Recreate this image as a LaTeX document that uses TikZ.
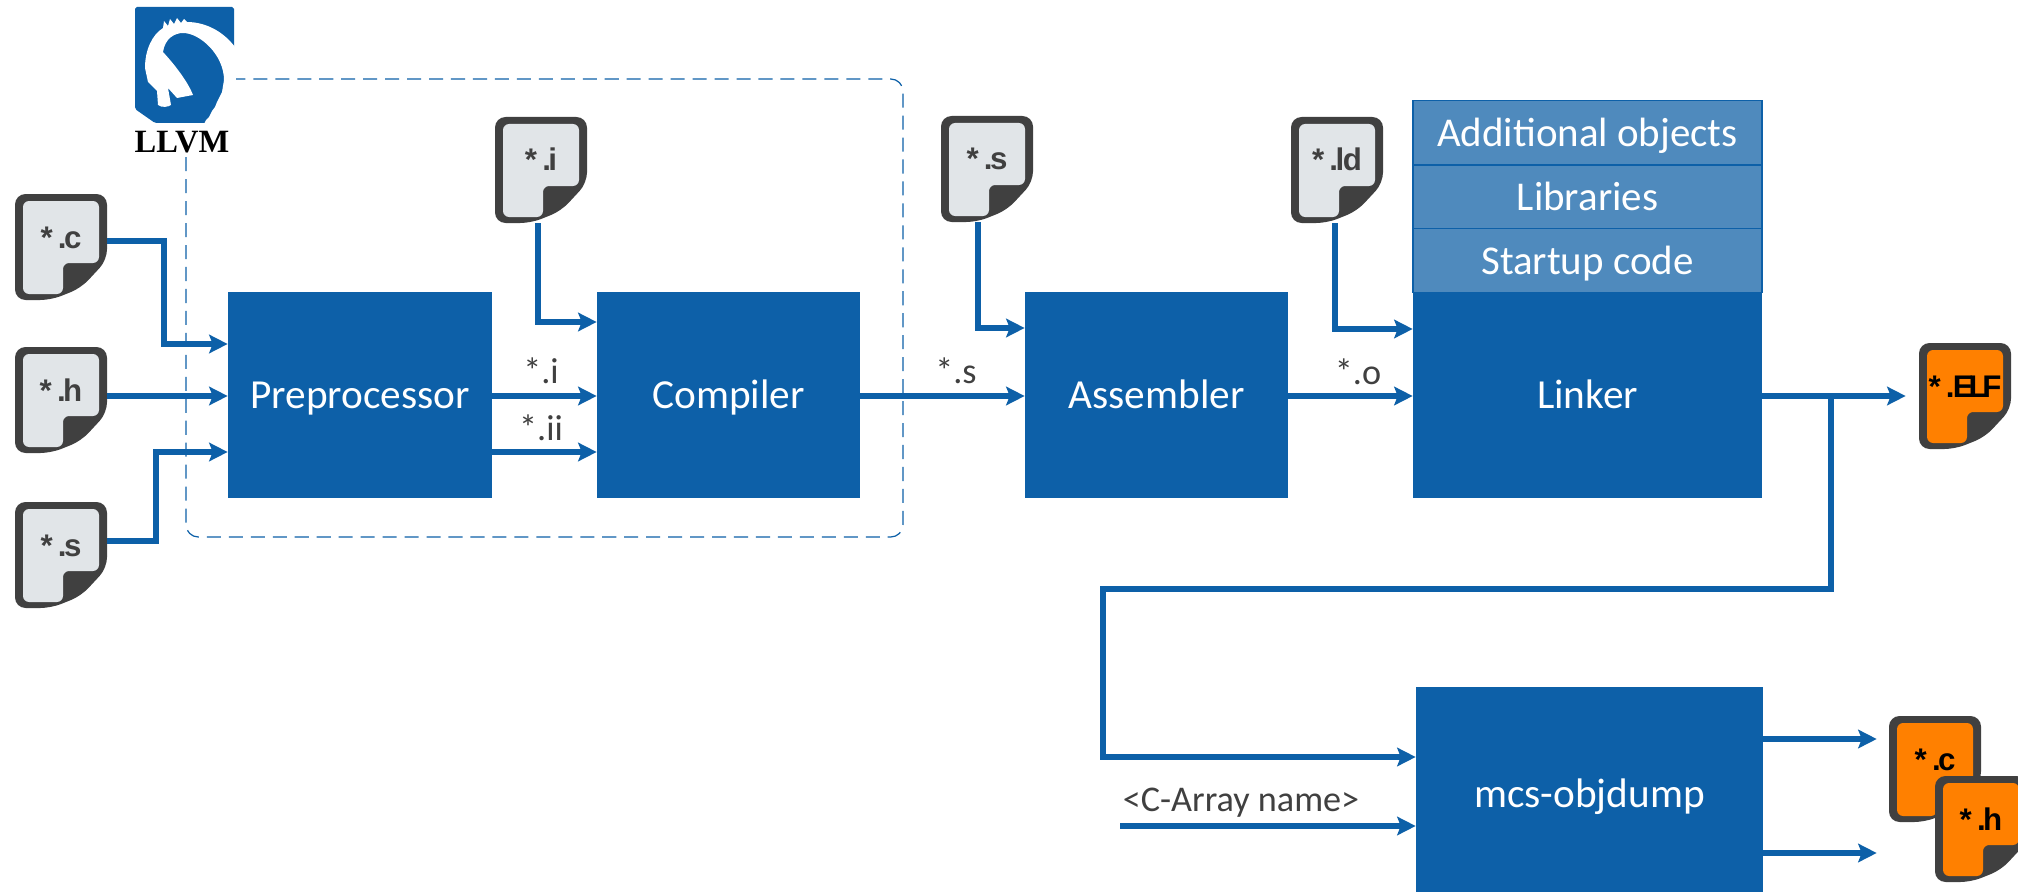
\documentclass[tikz,border=0pt]{standalone}
\usepackage{xcolor}
\usepackage{fontspec}
\setmainfont{Carlito}
\newfontfamily\docfont{Liberation Sans}
\newfontfamily\logofont{Liberation Serif}
\usetikzlibrary{arrows.meta}
\definecolor{bleuflow}{HTML}{0D60A8}
\definecolor{bleuhead}{HTML}{4F8ABD}
\definecolor{grisdoc}{HTML}{E1E5E8}
\definecolor{noirdoc}{HTML}{404040}
\definecolor{orangedoc}{HTML}{FF8000}
\tikzset{
  stagebox/.style={fill=bleuflow, text=white, inner sep=0pt, text height=.66cm, text depth=.1cm,
    font=\fontsize{23.5}{28}\selectfont},
  headbox/.style={fill=bleuhead, draw=bleuflow, line width=.9pt, text=white, inner sep=0pt,
    text height=.66cm, text depth=.1cm, minimum width=6.98cm, minimum height=1.28cm,
    font=\fontsize{23.3}{28}\selectfont},
  wire/.style={draw=bleuflow, line width=3.1pt, -{Stealth[length=10.5pt,width=10.5pt,inset=2pt]}},
  wirelabel/.style={text=noirdoc, inner sep=0pt, font=\fontsize{20.6}{24}\selectfont},
  docbox/.style={minimum width=1.84cm, minimum height=2.12cm, inner sep=0pt,
    text height=.52cm, text depth=.48cm, font=\docfont\bfseries\fontsize{17.8}{20}\selectfont},
}
% #1 name, #2 left, #3 top, #4 page colour, #5 text colour, #6 text
\newcommand{\docicon}[6]{
  \begin{scope}[shift={(#2,#3)}]
    \fill[noirdoc, rounded corners=6pt] (0,0) -- (92,0) -- (92,66) -- (66,94) -- (36,106) -- (0,106) -- cycle;
    \fill[#4, rounded corners=3.5pt] (8,7) -- (84,7) -- (84,69) -- (48,69) -- (48,100) -- (8,100) -- cycle;
    \node[docbox, text=#5] (#1) at (46,53) {#6};
  \end{scope}
}
\begin{document}
\begin{tikzpicture}[x=.02cm, y=-.02cm]
  \useasboundingbox (0,0) rectangle (2018,892);
  \clip (0,0) rectangle (2018,892);
  % dashed frame
  \draw[bleuflow, line width=.7pt, dash pattern=on 8pt off 4.5pt, rounded corners=7pt] (186,79) rectangle (903,537);
  % logo
  \fill[white] (132,5) rectangle (236,152);
  \fill[bleuflow, rounded corners=1pt] (135,7) -- (234,7) -- (234,123) -- (155,123) -- (135,109) -- cycle;
  \fill[white] (235,47) .. controls (223,31) and (205,22) .. (187,22)
    -- (184,19) -- (181,23) -- (177,18) -- (174,24) -- (170,19) -- (168,26) -- (164,21) -- (163,28)
    .. controls (152,35) and (145,50) .. (145,68) -- (148,82) -- (157,91) -- (158,105)
    .. controls (162,108) and (168,107) .. (171,105) -- (168,88) -- (177,98) -- (193,95)
    .. controls (188,82) and (175,65) .. (163,52)
    .. controls (165,38) and (175,33) .. (183,33)
    .. controls (200,33) and (224,55) .. (224,80)
    -- (222,92) -- (220,96) -- (217,102) -- (215,107) -- (212,111) -- (209,117) -- (206,120) -- (204,124)
    -- (235,124) -- cycle;
  \node[text=black, inner sep=0pt, font=\logofont\bfseries\fontsize{18.5}{22}\selectfont] (llvm) at (182,142) {LLVM};
  % stages
  \node[stagebox, minimum width=5.28cm, minimum height=4.12cm] (preproc) at (360,395) {Preprocessor};
  \node[stagebox, minimum width=5.26cm, minimum height=4.12cm] (compiler) at (728.5,395) {Compiler};
  \node[stagebox, minimum width=5.26cm, minimum height=4.12cm] (assembler) at (1156.5,395) {Assembler};
  \node[stagebox, minimum width=6.98cm, minimum height=4.12cm] (linker) at (1587.5,395) {Linker};
  \node[stagebox, minimum width=6.94cm, minimum height=4.24cm] (objdump) at (1589.5,793) {mcs-objdump};
  \node[headbox] (addobj) at (1587.5,132.5) {Additional objects};
  \node[headbox] (libs) at (1587.5,197) {Libraries};
  \node[headbox] (startup) at (1587.5,260.5) {Startup code};
  % documents
  \docicon{docc}{15}{194}{grisdoc}{noirdoc}{*\kern3pt.\kern-1.5pt c}
  \docicon{doch}{15}{347}{grisdoc}{noirdoc}{*\kern3pt.\kern-1.5pt h}
  \docicon{docs}{15}{502}{grisdoc}{noirdoc}{*\kern3pt.\kern-1.5pt s}
  \docicon{doci}{495}{117}{grisdoc}{noirdoc}{*\kern3pt.\kern-1.5pt i}
  \docicon{docasm}{941}{116}{grisdoc}{noirdoc}{*\kern3pt.\kern-1.5pt s}
  \docicon{docld}{1291}{117}{grisdoc}{noirdoc}{*\kern3pt.\kern-1.5pt l\kern-.8pt d}
  \docicon{docelf}{1919}{343}{orangedoc}{black}{*\kern3pt.\kern-1pt E\kern-3pt L\kern-3pt F}
  \docicon{outc}{1889}{716}{orangedoc}{black}{*\kern3pt.\kern-1.5pt c}
  \docicon{outh}{1935}{776}{orangedoc}{black}{*\kern3pt.\kern-1.5pt h}
  % connectors
  \draw[wire] (docc.east |- 0,241) -- (164,241) |- (preproc.west |- 0,344);
  \draw[wire] (doch.east |- 0,396) -- (preproc.west |- 0,396);
  \draw[wire] (docs.east |- 0,541) -- (156,541) |- (preproc.west |- 0,452);
  \draw[wire] (preproc.east |- 0,396) -- (compiler.west |- 0,396);
  \draw[wire] (preproc.east |- 0,452) -- (compiler.west |- 0,452);
  \draw[wire] (doci.south -| 538,0) |- (compiler.west |- 0,322);
  \draw[wire] (compiler.east |- 0,396) -- (assembler.west |- 0,396);
  \draw[wire] (docasm.south -| 978,0) |- (assembler.west |- 0,328);
  \draw[wire] (assembler.east |- 0,396) -- (linker.west |- 0,396);
  \draw[wire] (docld.south -| 1335,0) |- (linker.west |- 0,329);
  \coordinate (split) at (1831,396);
  \coordinate (carray) at (1120,826);
  \draw[wire, shorten >=7.4pt] (linker.east |- 0,396) -- (docelf.west |- 0,396);
  \draw[wire] (split) -- (1831,589) -- (1103,589) |- (objdump.west |- 0,757);
  \draw[wire] (carray) -- (objdump.west |- 0,826);
  \draw[wire, shorten >=6.8pt] (objdump.east |- 0,739) -- (outc.west |- 0,739);
  \draw[wire, shorten >=33pt] (objdump.east |- 0,853) -- (outh.west |- 0,853);
  % labels
  \node[wirelabel] (li) at (541,371) {*.i};
  \node[wirelabel] (lii) at (541,428) {*.ii};
  \node[wirelabel] (ls) at (956,371) {*.s};
  \node[wirelabel] (lo) at (1358,372) {*.o};
  \node[wirelabel] (lname) at (1241,803) {<C-Array name>};
\end{tikzpicture}
\end{document}
